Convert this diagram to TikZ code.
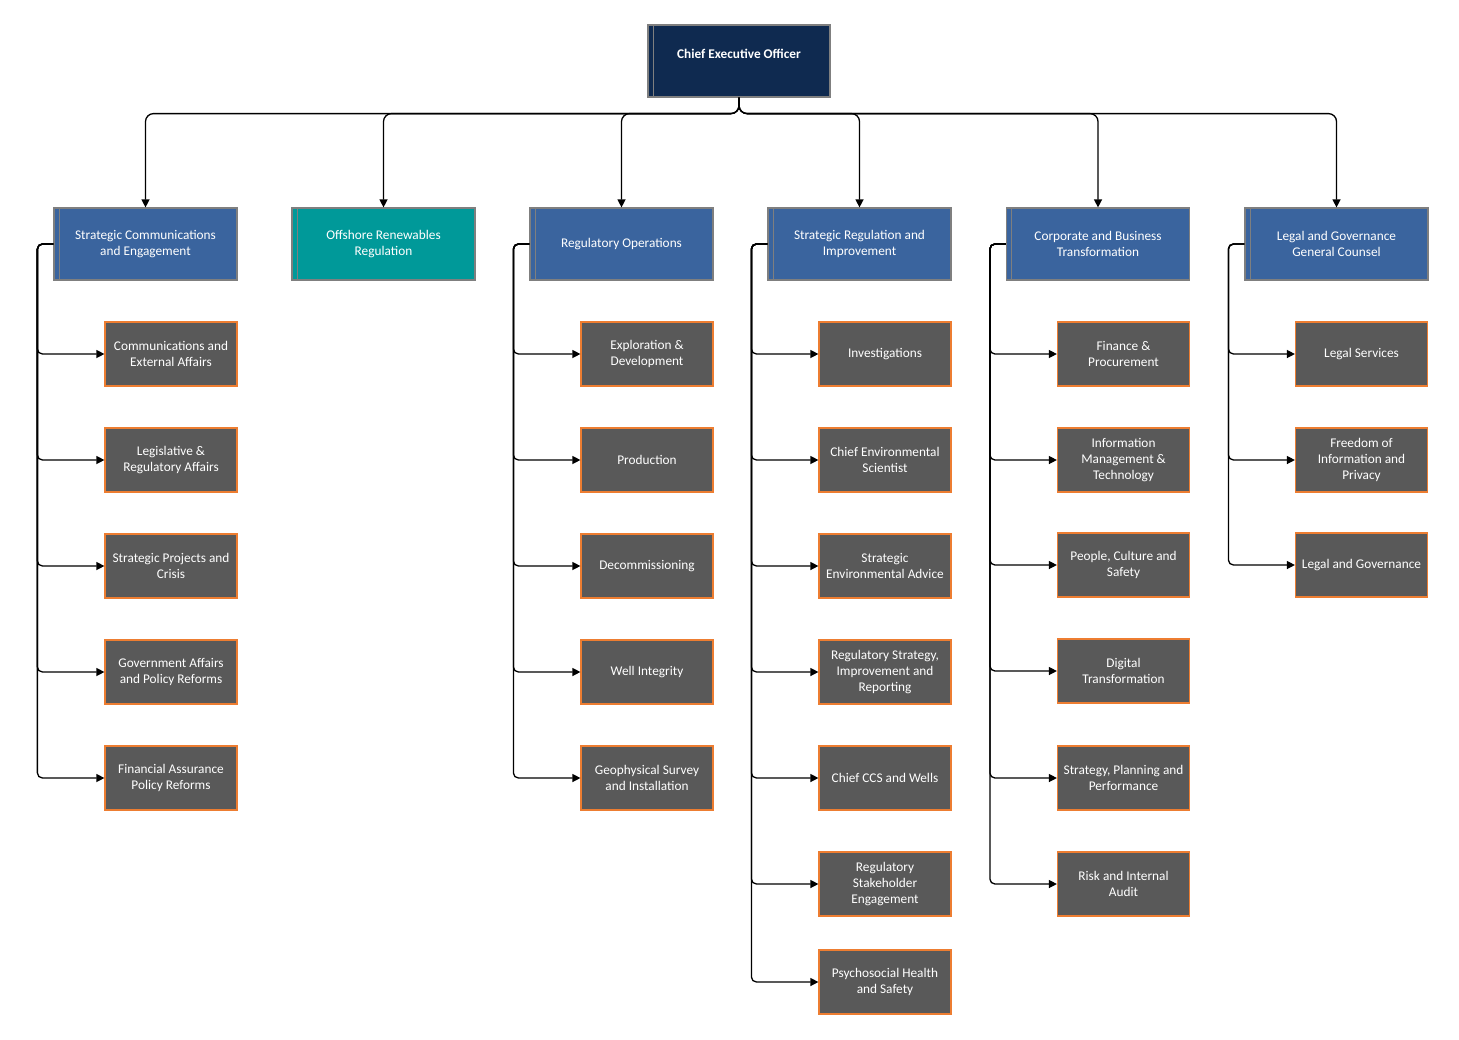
\documentclass[tikz,border=0pt]{standalone}
\usepackage{fontspec}
\setmainfont{Carlito}
\usetikzlibrary{arrows.meta}
\definecolor{navy}{HTML}{0F2A50}
\definecolor{hblue}{HTML}{3A649E}
\definecolor{teal2}{HTML}{009999}
\definecolor{cgray}{HTML}{595959}
\definecolor{corange}{HTML}{ED7D31}
\definecolor{hborder}{HTML}{7F7F7F}
\begin{document}
\begin{tikzpicture}[x=1bp,y=-1bp,
 box/.style={rectangle, minimum width=132bp, minimum height=64bp, align=center, text=white, font=\fontsize{13.3bp}{16bp}\selectfont, inner sep=0pt},
 child/.style={box, fill=cgray, draw=corange, line width=1.2bp},
 head/.style={box, minimum width=183bp, minimum height=72bp, fill=hblue, draw=hborder, line width=1.2bp,
   path picture={\draw[hborder, line width=0.8bp] ([xshift=5bp]path picture bounding box.north west) -- ([xshift=5bp]path picture bounding box.south west);}},
 conn/.style={draw=black, line width=1.3bp, rounded corners=8bp, -{Triangle[length=8bp,width=8bp]}},
 bus/.style={conn, rounded corners=5bp}
]
\useasboundingbox (0,0) rectangle (1459,1039);

\node[head, fill=navy, minimum width=182bp, text depth=15bp, font=\bfseries\fontsize{13.3bp}{16bp}\selectfont] (ceo) at (739,61) {Chief Executive Officer};

\node[head] (h1) at (145.5,244) {Strategic Communications\\and Engagement};
\node[head, fill=teal2] (h2) at (383.5,244) {Offshore Renewables\\Regulation};
\node[head] (h3) at (621.5,244) {Regulatory Operations};
\node[head] (h4) at (859.5,244) {Strategic Regulation and\\Improvement};
\node[head] (h5) at (1098,244) {Corporate and Business\\Transformation};
\node[head] (h6) at (1336.5,244) {Legal and Governance\\General Counsel};

\foreach \h in {h1,h2,h3,h4,h5,h6}
  \draw[conn] (ceo.south) -- ++(0,16) -| (\h.north);

% column 1
\node[child] (a1) at (171,354) {Communications and\\External Affairs};
\node[child] (a2) at (171,460) {Legislative \&\\Regulatory Affairs};
\node[child] (a3) at (171,566) {Strategic Projects and\\Crisis};
\node[child] (a4) at (171,672) {Government Affairs\\and Policy Reforms};
\node[child] (a5) at (171,778) {Financial Assurance\\Policy Reforms};
\foreach \c in {a1,a2,a3,a4,a5}
  \draw[bus] (h1.west) -- ++(-16,0) |- (\c.west);

% column 3
\node[child] (b1) at (647,354) {Exploration \&\\Development};
\node[child] (b2) at (647,460) {Production};
\node[child] (b3) at (647,566) {Decommissioning};
\node[child] (b4) at (647,672) {Well Integrity};
\node[child] (b5) at (647,778) {Geophysical Survey\\and Installation};
\foreach \c in {b1,b2,b3,b4,b5}
  \draw[bus] (h3.west) -- ++(-16,0) |- (\c.west);

% column 4
\node[child] (d1) at (885,354) {Investigations};
\node[child] (d2) at (885,460) {Chief Environmental\\Scientist};
\node[child] (d3) at (885,566) {Strategic\\Environmental Advice};
\node[child] (d4) at (885,672) {Regulatory Strategy,\\Improvement and\\Reporting};
\node[child] (d5) at (885,778) {Chief CCS and Wells};
\node[child] (d6) at (885,884) {Regulatory\\Stakeholder\\Engagement};
\node[child] (d7) at (885,982) {Psychosocial Health\\and Safety};
\foreach \c in {d1,d2,d3,d4,d5,d6,d7}
  \draw[bus] (h4.west) -- ++(-16,0) |- (\c.west);

% column 5
\node[child] (e1) at (1123.5,354) {Finance \&\\Procurement};
\node[child] (e2) at (1123.5,460) {Information\\Management \&\\Technology};
\node[child] (e3) at (1123.5,565) {People, Culture and\\Safety};
\node[child] (e4) at (1123.5,671) {Digital\\Transformation};
\node[child] (e5) at (1123.5,778) {Strategy, Planning and\\Performance};
\node[child] (e6) at (1123.5,884) {Risk and Internal\\Audit};
\foreach \c in {e1,e2,e3,e4,e5,e6}
  \draw[bus] (h5.west) -- ++(-16,0) |- (\c.west);

% column 6
\node[child] (f1) at (1361.5,354) {Legal Services};
\node[child] (f2) at (1361.5,460) {Freedom of\\Information and\\Privacy};
\node[child] (f3) at (1361.5,565) {Legal and Governance};
\foreach \c in {f1,f2,f3}
  \draw[bus] (h6.west) -- ++(-16,0) |- (\c.west);
\end{tikzpicture}
\end{document}
